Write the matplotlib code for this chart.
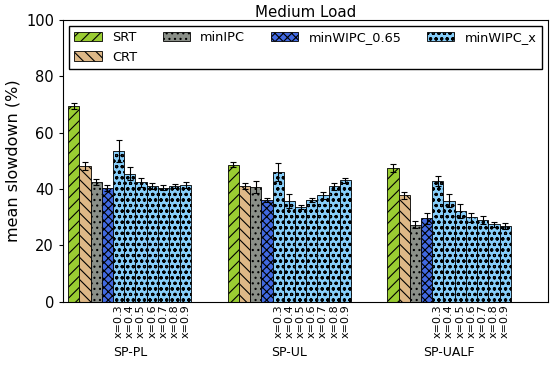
import matplotlib
matplotlib.use("Agg")
import matplotlib.pyplot as plt
import numpy as np

plt.rcParams['hatch.linewidth'] = 0.8

groups = ["SP-PL", "SP-UL", "SP-UALF"]
series = ["SRT", "CRT", "minIPC", "minWIPC_0.65"]
x_labels = ["x=0.3", "x=0.4", "x=0.5", "x=0.6", "x=0.7", "x=0.8", "x=0.9"]

# valores por grupo: SRT, CRT, minIPC, minWIPC_0.65, luego minWIPC_x (0.3..0.9)
srt = [69.5, 48.7, 47.6]
crt = [48.3, 41.1, 37.8]
minipc = [42.5, 40.8, 27.4]
minwipc065 = [40.5, 36.2, 29.7]
minwipc_x = [
    [53.5, 45.5, 42.4, 41.1, 40.5, 41.1, 41.6],
    [46.0, 35.7, 33.6, 36.1, 37.8, 41.0, 43.1],
    [42.9, 35.9, 32.2, 30.0, 29.0, 27.5, 26.9],
]

srt_err = [0.9, 1.0, 1.5]
crt_err = [1.5, 1.0, 1.2]
minipc_err = [1.0, 2.0, 1.3]
minwipc065_err = [1.0, 0.7, 2.0]
minwipc_x_err = [
    [3.9, 2.4, 1.6, 1.2, 0.8, 0.8, 1.1],
    [3.2, 2.5, 0.8, 0.7, 1.2, 1.2, 0.8],
    [1.7, 2.4, 2.6, 1.6, 1.5, 1.0, 1.2],
]

colores = {
    "SRT": "#9acd32",
    "CRT": "#deb887",
    "minIPC": "#8a8f88",
    "minWIPC_0.65": "#4169e1",
    "minWIPC_x": "#87cefa",
}
hatches = {
    "SRT": "///",
    "CRT": "\\\\\\",
    "minIPC": "...",
    "minWIPC_0.65": "xxxx",
    "minWIPC_x": "ooo",
}

fig = plt.figure(figsize=(5.58, 3.65), dpi=100)
ax = fig.add_axes([0.113, 0.173, 0.869, 0.772])

paso = 14.24
err_kw = dict(ecolor="black", capsize=2, elinewidth=0.8, capthick=0.8)
bar_kw = dict(width=1.0, edgecolor="black", linewidth=0.6, error_kw=err_kw)

base_vals = [srt, crt, minipc, minwipc065]
base_errs = [srt_err, crt_err, minipc_err, minwipc065_err]
tick_pos = []
tick_lab = []
for g in range(len(groups)):
    start = g * paso
    for i, name in enumerate(series):
        ax.bar(start + i + 0.5, base_vals[i][g], yerr=base_errs[i][g],
               color=colores[name], hatch=hatches[name],
               label=name if g == 0 else None, **bar_kw)
    for j in range(len(x_labels)):
        pos = start + 4 + j + 0.5
        ax.bar(pos, minwipc_x[g][j], yerr=minwipc_x_err[g][j],
               color=colores["minWIPC_x"], hatch=hatches["minWIPC_x"],
               label="minWIPC_x" if (g == 0 and j == 0) else None, **bar_kw)
        tick_pos.append(pos)
        tick_lab.append(x_labels[j])
    ax.text(start + 5.5, -0.18, groups[g], transform=ax.get_xaxis_transform(),
            ha="center", va="center", fontsize=9)

ax.set_xlim(-0.45, 42.8)
ax.set_ylim(0, 100)
ax.set_xticks(tick_pos)
ax.set_xticklabels(tick_lab, rotation=90, fontsize=8)
ax.tick_params(axis="x", length=0, pad=2)
ax.tick_params(axis="y", labelsize=10.5, direction="out", length=3)
ax.set_yticks([0, 20, 40, 60, 80, 100])
ax.set_ylabel("mean slowdown (%)", fontsize=11.5)
ax.set_title("Medium Load", fontsize=10.8, pad=2)

leg = ax.legend(ncol=4, loc="upper center", fontsize=9.3, fancybox=False,
                edgecolor="black", framealpha=1, handlelength=2.1,
                handletextpad=0.8, columnspacing=2.0, borderaxespad=0.45)
leg.get_frame().set_linewidth(1.0)

fig.savefig("out.png", dpi=100)
